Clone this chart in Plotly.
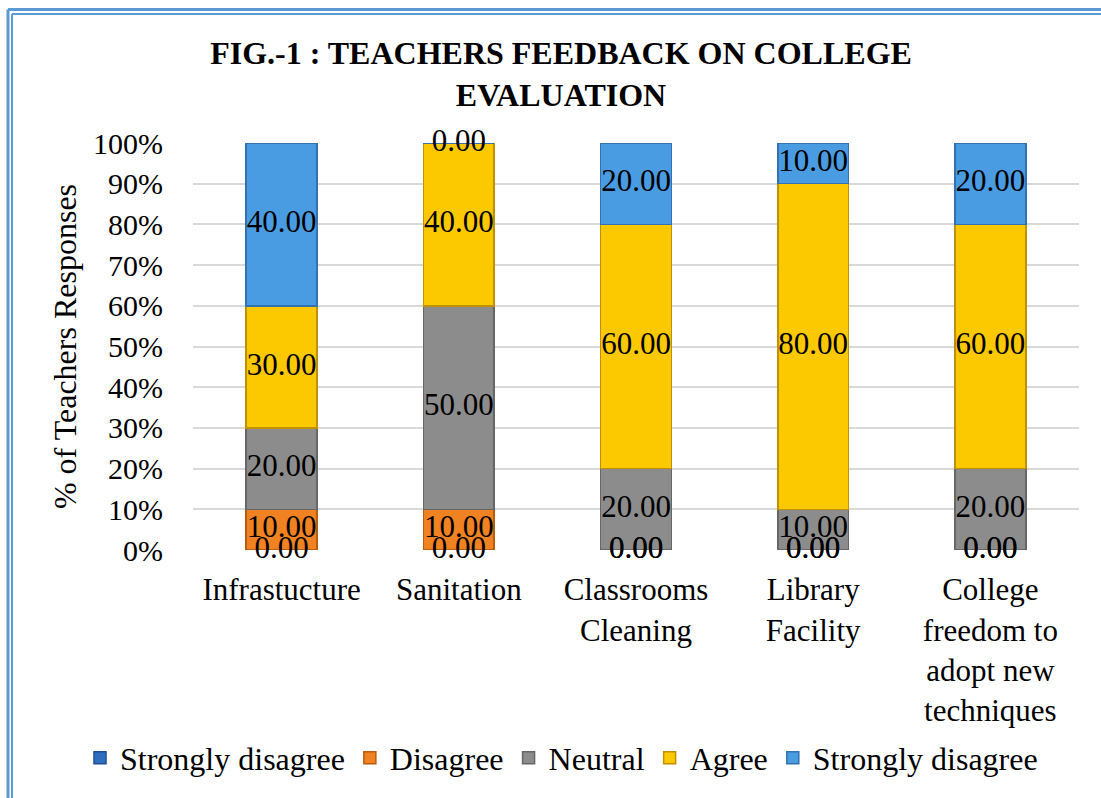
import plotly.graph_objects as go

# categories on the x axis
categories = ["Infrastucture", "Sanitation", "Classrooms<br>Cleaning",
              "Library<br>Facility", "College<br>freedom to<br>adopt new<br>techniques"]

# series, bottom of the stack first (percent of teachers)
series_names = ["Strongly disagree", "Disagree", "Neutral", "Agree", "Strongly disagree"]
strongly_disagree_1 = [0, 0, 0, 0, 0]
disagree = [10, 10, 0, 0, 0]
neutral = [20, 50, 20, 10, 20]
agree = [30, 40, 60, 80, 60]
strongly_disagree_2 = [40, 0, 20, 10, 20]

y_ticks = [0, 10, 20, 30, 40, 50, 60, 70, 80, 90, 100]
y_tick_labels = ["0%", "10%", "20%", "30%", "40%", "50%", "60%", "70%", "80%", "90%", "100%"]

series_values = [strongly_disagree_1, disagree, neutral, agree, strongly_disagree_2]
fill_colors = ["#2e6cc0", "#f08221", "#8c8c8c", "#fcc800", "#4a9ce2"]
edge_colors = ["#1f4f90", "#b85c10", "#666666", "#c09000", "#3471b0"]

FONT = "Liberation Serif, Times New Roman, serif"
W, H = 1101, 798
ml, mr, mt, mb = 193, 22, 143, 248
pw, ph = W - ml - mr, H - mt - mb

fig = go.Figure()

for name, vals, fc, ec in zip(series_names, series_values, fill_colors, edge_colors):
    fig.add_trace(go.Bar(
        x=categories, y=vals, name=name,
        marker=dict(color=fc, line=dict(color=ec, width=1.5)),
        hoverinfo="x+y+name",
    ))

# data labels in the middle of each stacked segment (also for zero segments)
lab_x, lab_y, lab_t = [], [], []
for i, cat in enumerate(categories):
    base = 0
    for vals in series_values:
        v = vals[i]
        lab_x.append(cat)
        lab_y.append(base + v / 2)
        lab_t.append(f"{v:.2f}")
        base += v
fig.add_trace(go.Scatter(
    x=lab_x, y=lab_y, text=lab_t, mode="text",
    textfont=dict(family=FONT, size=31, color="black"),
    textposition="middle center", showlegend=False, hoverinfo="skip",
    cliponaxis=False,
))


def px_x(x):
    return (x - ml) / pw


def px_y(y):
    return (H - mb - y) / ph


frame = "#5b9bd5"
shapes = [
    dict(type="line", xref="paper", yref="paper", x0=px_x(8), x1=px_x(W + 5),
         y0=px_y(9.5), y1=px_y(9.5), line=dict(color=frame, width=3)),
    dict(type="line", xref="paper", yref="paper", x0=px_x(12), x1=px_x(W + 5),
         y0=px_y(14), y1=px_y(14), line=dict(color=frame, width=2)),
    dict(type="line", xref="paper", yref="paper", x0=px_x(8), x1=px_x(8),
         y0=px_y(9.5), y1=px_y(H + 5), line=dict(color=frame, width=3)),
    dict(type="line", xref="paper", yref="paper", x0=px_x(12), x1=px_x(12),
         y0=px_y(14), y1=px_y(H + 5), line=dict(color=frame, width=2)),
]

fig.update_layout(
    width=W, height=H,
    margin=dict(l=ml, r=mr, t=mt, b=mb),
    paper_bgcolor="white", plot_bgcolor="white",
    barmode="stack", bargap=0.6,
    font=dict(family=FONT, color="black"),
    title=dict(text="<b>FIG.-1 : TEACHERS FEEDBACK ON COLLEGE<br>EVALUATION</b>",
               x=561 / W, xanchor="center", xref="container",
               y=1 - 64 / H, yanchor="top", yref="container",
               font=dict(family=FONT, size=32, color="black")),
    xaxis=dict(tickfont=dict(family=FONT, size=31), showgrid=False, automargin=False,
               showline=False, ticks="outside", ticklen=12, tickcolor="rgba(0,0,0,0)"),
    yaxis=dict(range=[0, 100], tickvals=y_ticks, ticktext=y_tick_labels,
               tickfont=dict(family=FONT, size=30), automargin=False,
               showgrid=True, gridcolor="#d9d9d9", gridwidth=1.5,
               zeroline=False, showline=False,
               ticks="outside", ticklen=23, tickcolor="rgba(0,0,0,0)",
               title=dict(text="% of Teachers Responses", standoff=6,
                          font=dict(family=FONT, size=32))),
    legend=dict(orientation="h", xref="paper", yref="paper",
                x=px_x(80), xanchor="left", y=px_y(758), yanchor="middle",
                font=dict(family=FONT, size=32), traceorder="normal",
                itemwidth=30, tracegroupgap=0),
    shapes=shapes,
    showlegend=True,
)

fig.write_html("out.html", config={"displayModeBar": False},
               post_script="document.body.style.margin='0';")
